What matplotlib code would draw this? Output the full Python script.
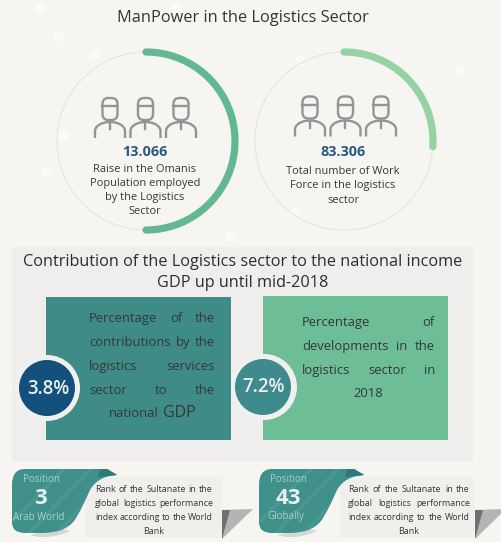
import numpy as np
import matplotlib
matplotlib.use("Agg")
import matplotlib.pyplot as plt
from matplotlib.patches import Circle, Rectangle, PathPatch, Polygon, FancyBboxPatch
from matplotlib.path import Path

plt.rcParams['font.family'] = ['Open Sans', 'DejaVu Sans']

main_title = "ManPower in the Logistics Sector"
gdp_title = ["Contribution of the Logistics sector to the national income", "GDP up until mid-2018"]

ring_fractions = [0.50, 0.26]
ring_colors = ["#63b891", "#95d2a4"]
ring_numbers = ["13.066", "83.306"]
ring_texts = [["Raise in the Omanis", "Population employed", "by the Logistics", "Sector"],
              ["Total number of Work", "Force in the logistics", "sector"]]

pct_values = ["3.8%", "7.2%"]
pct_colors = ["#14507e", "#3f8a8c"]
box_colors = ["#3f8b87", "#6dbd96"]
box_lines = [["Percentage of the", "contributions by the", "logistics services", "sector to the"],
             ["Percentage of", "developments in the", "logistics sector in"]]
box_last = ["national GDP", "2018"]

rank_top = "Position"
rank_values = ["3", "43"]
rank_scopes = ["Arab World", "Globally"]
rank_lines = ["Rank of the Sultanate in the", "global logistics performance", "index according to the World", "Bank"]

# faint white dots of the backdrop
dots_x = [58, 94, 63, 46, 176, 230, 295, 300, 460, 40]
dots_y = [36, 54, 135, 172, 8, 235, 212, 60, 70, 8]

BG = "#f6f5f1"
INK = "#33383a"


def draw_ring(ax, cx, cy, r, frac, color):
    t = np.linspace(0, 2 * np.pi, 300)
    ax.plot(cx + r * np.cos(t), cy + r * np.sin(t), color="#e2e2de", lw=0.7, zorder=1)
    a = np.linspace(0, 2 * np.pi * frac, 200)
    ax.plot(cx + r * np.sin(a), cy - r * np.cos(a), color=color, lw=5.2,
            solid_capstyle="round", zorder=2)


def draw_person(ax, cx, top):
    grey = "#939595"
    # head
    ax.add_patch(FancyBboxPatch((cx - 7.5, top), 15, 22, boxstyle="round,pad=0,rounding_size=6",
                                fc="none", ec=grey, lw=1.7))
    ax.plot([cx - 7.5, cx + 7.5], [top + 8, top + 8], color=grey, lw=1.7)
    # shoulders
    t = np.linspace(np.pi, 2 * np.pi, 40)
    xs = np.r_[cx - 15, cx + 15 * np.cos(t), cx + 15]
    ys = np.r_[top + 40, top + 33 + 9 * np.sin(t), top + 40]
    ax.plot(xs, ys, color=grey, lw=1.7, solid_capstyle="butt")
    ax.plot([cx, cx], [top + 24, top + 31], color=grey, lw=1.7)


def justify(ax, fig, line, x0, x1, y, size, color=INK):
    # spread the words of a line between x0 and x1
    words = line.split()
    items = [ax.text(x0, y, w, fontsize=size, color=color, va="baseline", ha="left") for w in words]
    r = fig.canvas.get_renderer()
    widths = [i.get_window_extent(r).width for i in items]
    gap = (x1 - x0 - sum(widths)) / (len(words) - 1)
    x = x0
    for i, w in zip(items, widths):
        i.set_x(x)
        x += w + gap


def draw_rank(ax, dx, value, scope, card_x0, card_x1, text_x, text_w, fold_x):
    # card behind the flag
    ax.add_patch(Rectangle((card_x0, 477), card_x1 - card_x0, 61, fc="#f1efec", ec="none", zorder=1))
    # folded corner
    ax.add_patch(Polygon([(fold_x, 510), (fold_x + 31, 509), (fold_x, 539)], fc="#b4b4b2", ec="none", zorder=1))
    ax.add_patch(Polygon([(fold_x, 510), (fold_x + 8, 510), (fold_x, 539)], fc="#6f7070", ec="none", zorder=2))
    # flag shadow
    shadow = Path([(dx + 30, 535), (dx + 48, 541), (dx + 70, 531), (dx + 60, 528), (dx + 30, 535)],
                  [Path.MOVETO, Path.CURVE3, Path.CURVE3, Path.LINETO, Path.CLOSEPOLY])
    ax.add_patch(PathPatch(shadow, fc="#d3d8d6", ec="none", zorder=2))
    # flag
    verts = [(dx + 25, 469), (dx + 107, 469), (dx + 117, 475),
             (dx + 98, 476), (dx + 90, 490), (dx + 83, 506), (dx + 76, 518),
             (dx + 68, 532), (dx + 44, 533), (dx + 25, 533),
             (dx + 12, 533), (dx + 12, 522), (dx + 12, 485),
             (dx + 12, 469), (dx + 25, 469), (dx + 25, 469)]
    codes = [Path.MOVETO, Path.LINETO, Path.LINETO,
             Path.CURVE3, Path.CURVE3, Path.CURVE3, Path.CURVE3,
             Path.CURVE3, Path.CURVE3, Path.LINETO,
             Path.CURVE3, Path.CURVE3, Path.LINETO,
             Path.CURVE3, Path.CURVE3, Path.CLOSEPOLY]
    flag = PathPatch(Path(verts, codes), fc="#3f8f8a", ec="none", zorder=3)
    ax.add_patch(flag)
    for off in [15, 42, 70]:
        ln, = ax.plot([dx + off - 20, dx + off + 50], [540, 468], color="#4a9791", lw=3, zorder=3)
        ln.set_clip_path(flag)
    ax.add_patch(Polygon([(dx + 100, 469), (dx + 107, 469), (dx + 117, 475), (dx + 98, 477)],
                         fc="#2f7a76", ec="none", zorder=3))
    ax.text(dx + 41, 479, rank_top, fontsize=7, color="#a6d4cd", ha="center", va="center", zorder=4)
    ax.text(dx + 41, 499, value, fontsize=16, color="#e6f1ef", fontweight="bold", ha="center", va="center", zorder=4)
    ax.text(dx + 39, 517, scope, fontsize=7, color="#a6d4cd", ha="center", va="center", zorder=4)
    for k, line in enumerate(rank_lines):
        y = 491.5 + 14.2 * k
        if k < 3:
            justify(ax, fig, line, text_x, text_x + text_w, y, 6.4)
        else:
            ax.text(text_x + text_w / 2, y, line, fontsize=6.4, color=INK, ha="center", va="baseline")


fig = plt.figure(figsize=(5.02, 5.42), dpi=100, facecolor=BG)
ax = fig.add_axes([0, 0, 1, 1])
ax.set_xlim(0, 502)
ax.set_ylim(542, 0)
ax.axis("off")

ax.scatter(dots_x, dots_y, s=60, color="white", alpha=0.55, linewidths=0, zorder=0)

ax.text(243, 18, main_title, fontsize=11.8, color="#333637", ha="center", va="center")

# rings
for cx, frac, col, num, lines, top, ty in zip([146, 344], ring_fractions, ring_colors, ring_numbers,
                                              ring_texts, [98, 96.5], [171.5, 174]):
    draw_ring(ax, cx, 141, 89, frac, col)
    for off in [-35.5, 0, 35.5]:
        draw_person(ax, cx + off + (-0.5 if cx == 146 else 1.5), top)
    ax.text(cx - 1, 152, num, fontsize=10.4, fontweight="bold", color="#2a5a80", ha="center", va="center")
    for k, line in enumerate(lines):
        ax.text(cx - 1, ty + 14.3 * k, line, fontsize=7.9, color=INK, ha="center", va="baseline")

# GDP panel
ax.add_patch(Rectangle((12, 247), 461, 215, fc="#f0eeec", ec="none", zorder=0))
ax.text(243, 262, gdp_title[0], fontsize=11.7, color="#2b2e30", ha="center", va="center")
ax.text(243, 283, gdp_title[1], fontsize=11.7, color="#2b2e30", ha="center", va="center")
ax.add_patch(Rectangle((46, 297), 185, 143, fc=box_colors[0], ec="none", zorder=1))
ax.add_patch(Rectangle((263, 296), 185, 144, fc=box_colors[1], ec="none", zorder=1))

for k, line in enumerate(box_lines[0]):
    justify(ax, fig, line, 89, 215, 322 + 24 * k, 9.4)
ax.text(159, 417, box_last[0].split()[0], fontsize=9.4, color=INK, ha="right", va="baseline")
ax.text(163, 417, box_last[0].split()[1], fontsize=11.5, color=INK, ha="left", va="baseline")
for k, line in enumerate(box_lines[1]):
    justify(ax, fig, line, 302, 435, 326 + 24 * k, 9.4)
ax.text(368, 397, box_last[1], fontsize=9.4, color=INK, ha="center", va="baseline")

for cx, cy, r, val, col, ring_x in zip([47, 263], [388, 387], [28, 28], pct_values, pct_colors, [47, 264]):
    ax.add_patch(Circle((ring_x, cy), 33, fc="#f2f0ee", ec="none", zorder=2))
    ax.add_patch(Circle((cx, cy), r, fc=col, ec="none", zorder=3))
    ax.text(cx + 1, cy + 0.5, val, fontsize=13.4, fontweight="semibold", color="#e8f0f0",
            ha="center", va="center", zorder=4)

fig.canvas.draw()
draw_rank(ax, 0, rank_values[0], rank_scopes[0], 85, 222, 95, 118, 222)
draw_rank(ax, 247, rank_values[1], rank_scopes[1], 340, 474, 348, 122, 475)

fig.savefig("out.png", dpi=100, facecolor=BG)
